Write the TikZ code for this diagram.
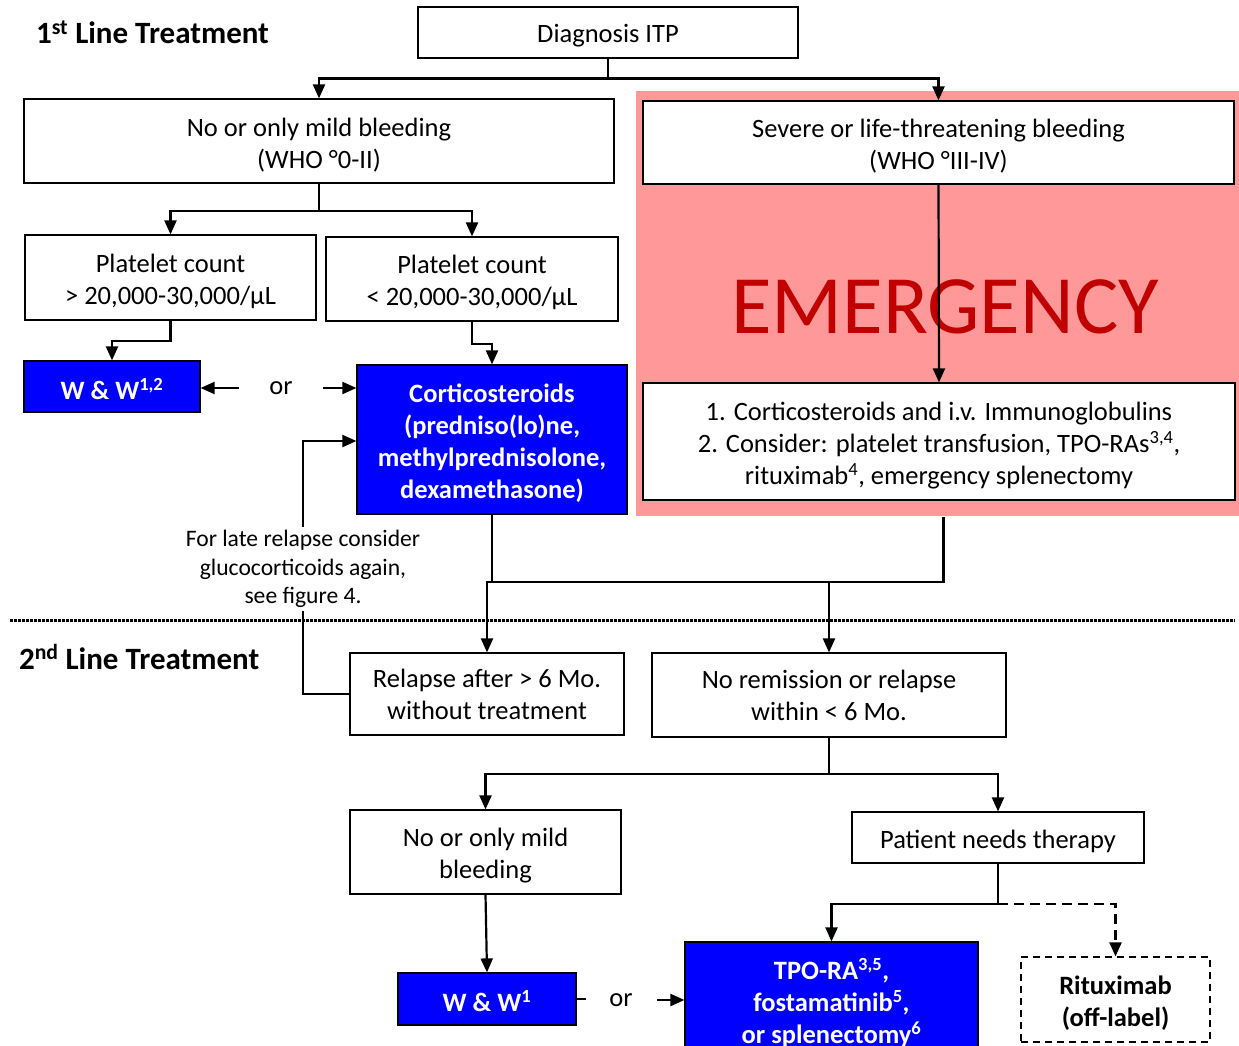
\documentclass[tikz,border=0pt]{standalone}
\usepackage{xcolor}
\usepackage{fontspec}
\setmainfont{Carlito}
\usepackage{tikz}
\usetikzlibrary{arrows.meta}
\definecolor{itpblue}{HTML}{0000FF}
\definecolor{emfill}{HTML}{FF9999}
\definecolor{emtext}{HTML}{C00000}
\newcommand{\topline}{\rule{0pt}{26pt}}
\tikzset{>={Triangle[length=14pt, width=12pt]}, font=\fontsize{26.5}{32}\selectfont}
\tikzset{box/.style={shape=rectangle, draw, line width=1.2pt, fill=white,
    inner sep=0pt, align=center}}
\tikzset{bluebox/.style={box, fill=itpblue, text=white,
    font=\fontsize{26.5}{32}\selectfont\bfseries}}
\tikzset{dashbox/.style={box, dash pattern=on 7pt off 5pt,
    font=\fontsize{26.5}{32}\selectfont\bfseries}}
\tikzset{title/.style={anchor=west, inner sep=0pt, font=\fontsize{31}{34}\selectfont\bfseries}}
\tikzset{note/.style={align=center, inner sep=2pt, font=\fontsize{23.6}{28.5}\selectfont}}

\begin{document}
\begin{tikzpicture}[x=1pt, y=-1pt, line width=2.2pt]
  \useasboundingbox (0,0) rectangle (1239,1046);
  \node[fill=emfill, inner sep=0pt, minimum width=603, minimum height=425] (emarea) at (937.5,303.5) {};
  \node[text=emtext, inner sep=0pt, font=\fontsize{83}{90}\selectfont] (emtitle) at (945,306.5) {EMERGENCY};

  \node[title] (first) at (35,32) {1\textsuperscript{st} Line Treatment};
  \node[title] (second) at (18,657) {2\textsuperscript{nd} Line Treatment};

  \node[box, minimum width=380, minimum height=51] (diag) at (608,32.5) {\rule{0pt}{24pt}Diagnosis ITP};
  \node[box, minimum width=590, minimum height=84] (nomild) at (319,141) {\topline No or only mild bleeding\\(WHO °0-II)};
  \node[box, minimum width=591, minimum height=83] (severe) at (938.5,142.5) {\topline Severe or life-threatening bleeding\\(WHO °III-IV)};
  \node[box, minimum width=291, minimum height=85] (plathigh) at (170.5,277.5) {\topline Platelet count\\> 20,000-30,000/µL};
  \node[box, minimum width=292, minimum height=84] (platlow) at (472,279) {\topline Platelet count\\< 20,000-30,000/µL};
  \node[bluebox, minimum width=176, minimum height=51] (ww) at (112,386.5) {\topline W \& W\textsuperscript{1,2}};
  \node[bluebox, minimum width=270, minimum height=149] (cort) at (492,439.5) {\topline Corticosteroids\\(predniso(lo)ne,\\methylprednisolone,\\dexamethasone)};
  \node[box, minimum width=592, minimum height=117] (emerbox) at (939,441.5) {\topline 1. Corticosteroids and i.v. Immunoglobulins\\2. Consider: platelet transfusion, TPO-RAs\textsuperscript{3,4},\\rituximab\textsuperscript{4}, emergency splenectomy};
  \node[inner sep=0pt, minimum width=82] (orfirst) at (281,388) {or};
  \node[note] (late) at (303,569) {For late relapse consider\\glucocorticoids again,\\see figure 4.};

  \draw[line width=3pt, dash pattern=on 3pt off 1pt] (10,620) -- (1235,620);

  \node[box, minimum width=274, minimum height=82] (relapse) at (487,694) {Relapse after > 6 Mo.\\without treatment};
  \node[box, minimum width=354, minimum height=84] (noremis) at (829,695) {No remission or relapse\\within < 6 Mo.};
  \node[box, minimum width=271, minimum height=84] (nomildtwo) at (485.5,852) {\topline No or only mild\\bleeding};
  \node[box, minimum width=292, minimum height=51] (therapy) at (998,837.5) {\topline Patient needs therapy};
  \node[bluebox, minimum width=178, minimum height=52] (wwtwo) at (487,999) {\topline W \& W\textsuperscript{1}};
  \node[bluebox, minimum width=293, minimum height=120] (tpo) at (831.5,1002) {\rule{0pt}{24pt}TPO-RA\textsuperscript{3,5},\\fostamatinib\textsuperscript{5},\\or splenectomy\textsuperscript{6}};
  \node[dashbox, minimum width=189, minimum height=85] (ritux) at (1115.5,999.5) {\topline Rituximab\\(off-label)};
  \node[inner sep=0pt, minimum width=70] (orsecond) at (621,1000) {or};

  \coordinate (join) at (487,582);

  \draw[->] (diag.south) -- ++(0,20) -| (nomild.north);
  \draw[->] (diag.south) -- ++(0,20) -| (severe.north);
  \draw[->] (nomild.south) -- ++(0,27) -| (plathigh.north);
  \draw[->] (nomild.south) -- ++(0,27) -| (platlow.north);
  \draw[->] (plathigh.south) -- ++(0,20) -| (ww.north);
  \draw[->] (platlow.south) -- ++(0,22) -| (cort.north);
  \draw[->] (orfirst.west) -- (ww.east |- orfirst.west);
  \draw[->] (orfirst.east) -- (cort.west |- orfirst.east);
  \draw[->] (severe.south) -- (emerbox.north);
  \draw (relapse.west) -| (late.south);
  \draw[->] (late.north) |- ([yshift=-1.5]cort.west);
  \draw[->] (cort.south) |- (join) -- (relapse.north);
  \draw ([xshift=6]emarea.south) |- (join);
  \draw[->] (noremis.north |- join) -- (noremis.north);
  \draw[->] (noremis.south) -- ++(0,36) -| (nomildtwo.north);
  \draw[->] (noremis.south) -- ++(0,36) -| (therapy.north);
  \draw[->] (nomildtwo.south) -- (wwtwo.north);
  \draw (wwtwo.east) -- ++(9,0);
  \draw[->] (orsecond.east) -- (tpo.west |- orsecond.east);
  \draw[->] (therapy.south) -- ++(0,40) -| (tpo.north);
  \draw[->, dash pattern=on 10pt off 6pt] (therapy.south) ++(0,40) -| (ritux.north);
\end{tikzpicture}
\end{document}
